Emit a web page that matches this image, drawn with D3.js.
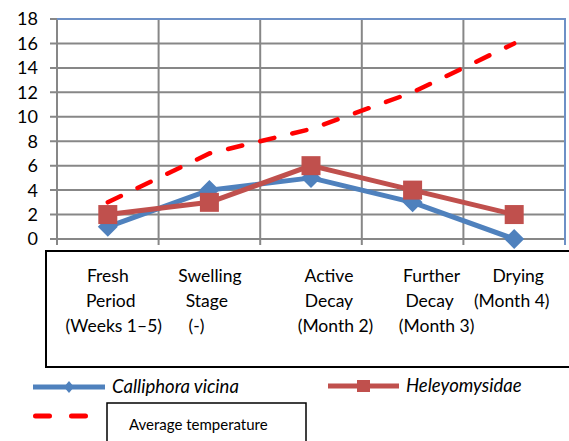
<!DOCTYPE html>
<html>
<head>
<meta charset="utf-8">
<script src="https://cdn.jsdelivr.net/npm/d3@7"></script>
<style>
  body { margin: 0; background: #fff; }
  svg { display: block; font-family: Lato, "Open Sans", sans-serif; }
</style>
</head>
<body>
<svg id="chart" width="569" height="441"></svg>
<script>
// Data
const stages = ["Fresh", "Swelling", "Active", "Further", "Drying"];
const stageLabels = [
  ["Fresh", "Period", "(Weeks 1–5)"],
  ["Swelling", "Stage", "(-)"],
  ["Active", "Decay", "(Month 2)"],
  ["Further", "Decay", "(Month 3)"],
  ["Drying", "(Month 4)"]
];
const calliphora = [1, 4, 5, 3, 0];
const heleomyzidae = [2, 3, 6, 4, 2];
const avgTemperature = [3, 7, 9, 12, 16];
const yTicks = [0, 2, 4, 6, 8, 10, 12, 14, 16, 18];

// Layout
const plot = { left: 57, right: 565, top: 19, bottom: 239 };
// horizontal nudge of each label line inside the text box, from its category centre
const labelNudge = [[0, 3, 6], [0.5, -2.5, -13], [18, 18, 24.5], [19, 17, 24], [4, -2.5]];

const svg = d3.select("#chart");

const x = d3.scaleBand().domain(stages).range([plot.left, plot.right]).padding(0);
const cx = d => x(d) + x.bandwidth() / 2;
const y = d3.scaleLinear().domain([0, 18]).range([plot.bottom, plot.top]);

const grid = svg.append("g");
// horizontal gridlines (with left ticks)
grid.selectAll(".hg").data(yTicks).join("line")
  .attr("x1", plot.left - 7).attr("x2", plot.right)
  .attr("y1", d => y(d)).attr("y2", d => y(d))
  .attr("stroke", "#878787").attr("stroke-width", 2);
// vertical gridlines at category boundaries (with bottom ticks)
const bounds = stages.map(s => x(s)).concat([plot.right]);
grid.selectAll(".vg").data(bounds).join("line")
  .attr("x1", d => d).attr("x2", d => d)
  .attr("y1", plot.top).attr("y2", plot.bottom + 6)
  .attr("stroke", "#878787").attr("stroke-width", 2);
// blue plot border top + right
svg.append("path")
  .attr("d", `M${plot.left},${plot.top}H${plot.right}V${plot.bottom + 6}`)
  .attr("fill", "none").attr("stroke", "#6d90c6").attr("stroke-width", 2);

// y tick labels
svg.append("g").selectAll("text").data(yTicks).join("text")
  .attr("x", 38).attr("y", d => y(d))
  .attr("dy", "0.36em")
  .attr("text-anchor", "end")
  .attr("font-size", 18).attr("fill", "#000")
  .text(d => d);

const line = d3.line().x((d, i) => cx(stages[i])).y(d => y(d));

// Calliphora vicina
svg.append("path").datum(calliphora)
  .attr("d", line).attr("fill", "none")
  .attr("stroke", "#4f81bd").attr("stroke-width", 5).attr("stroke-linejoin", "round");
svg.append("g").selectAll("path").data(calliphora).join("path")
  .attr("transform", (d, i) => `translate(${cx(stages[i])},${y(d)})`)
  .attr("d", "M0,-10L10,0L0,10L-10,0Z")
  .attr("fill", "#4f81bd");

// Heleomyzidae
svg.append("path").datum(heleomyzidae)
  .attr("d", line).attr("fill", "none")
  .attr("stroke", "#c0504d").attr("stroke-width", 5).attr("stroke-linejoin", "round");
svg.append("g").selectAll("rect").data(heleomyzidae).join("rect")
  .attr("x", (d, i) => cx(stages[i]) - 9.5).attr("y", d => y(d) - 9.5)
  .attr("width", 19).attr("height", 19)
  .attr("fill", "#c0504d");

// Average temperature
svg.append("path").datum(avgTemperature)
  .attr("d", line).attr("fill", "none")
  .attr("stroke", "#ff0000").attr("stroke-width", 4.5)
  .attr("stroke-linecap", "round")
  .attr("stroke-dasharray", "14.5,18.5");

// category text box
svg.append("rect")
  .attr("x", 46).attr("y", 251).attr("width", 540).attr("height", 116)
  .attr("fill", "none").attr("stroke", "#000").attr("stroke-width", 2);
const labels = svg.append("g").attr("font-size", 17.5).attr("fill", "#000").attr("text-anchor", "middle");
stageLabels.forEach((lines, i) => {
  lines.forEach((t, j) => {
    labels.append("text")
      .attr("x", cx(stages[i]) + labelNudge[i][j])
      .attr("y", 282 + j * 25)
      .text(t);
  });
});

// legend
const lg = svg.append("g");
lg.append("line").attr("x1", 33).attr("x2", 105).attr("y1", 387).attr("y2", 387)
  .attr("stroke", "#4f81bd").attr("stroke-width", 5);
lg.append("path").attr("transform", "translate(69,387)")
  .attr("d", "M0,-6L5,0L0,6L-5,0Z").attr("fill", "#4f81bd");
lg.append("text").attr("x", 112).attr("y", 393)
  .attr("font-size", 18.5).attr("font-style", "italic").text("Calliphora vicina");

lg.append("line").attr("x1", 328).attr("x2", 399).attr("y1", 386).attr("y2", 386)
  .attr("stroke", "#c0504d").attr("stroke-width", 5);
lg.append("rect").attr("x", 357).attr("y", 380).attr("width", 13).attr("height", 12)
  .attr("fill", "#c0504d");
lg.append("text").attr("x", 406).attr("y", 392)
  .attr("font-size", 18.5).attr("font-style", "italic").text("Heleyomysidae");

lg.append("line").attr("x1", 35.5).attr("x2", 86.5).attr("y1", 416).attr("y2", 416)
  .attr("stroke", "#ff0000").attr("stroke-width", 5)
  .attr("stroke-linecap", "round").attr("stroke-dasharray", "14,22");
lg.append("rect").attr("x", 107).attr("y", 403).attr("width", 199).attr("height", 60)
  .attr("fill", "none").attr("stroke", "#000").attr("stroke-width", 1.5);
lg.append("text").attr("x", 129).attr("y", 430)
  .attr("font-size", 15).text("Average temperature");
</script>
</body>
</html>
